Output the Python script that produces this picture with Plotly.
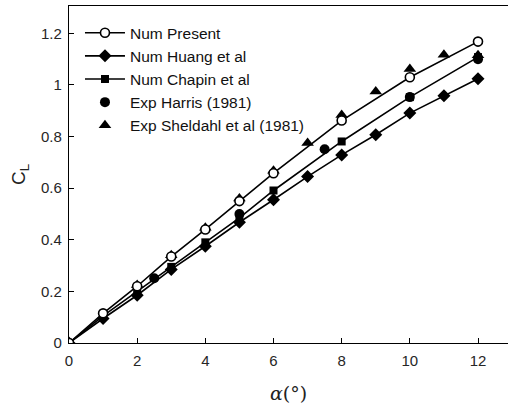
import plotly.graph_objects as go

# Data
present_x = [0, 1, 2, 3, 4, 5, 6, 8, 10, 12]
present_y = [0.0, 0.115, 0.22, 0.335, 0.44, 0.55, 0.658, 0.862, 1.03, 1.168]

huang_x = [0, 1, 2, 3, 4, 5, 6, 7, 8, 9, 10, 11, 12]
huang_y = [0.0, 0.095, 0.185, 0.285, 0.375, 0.468, 0.555, 0.645, 0.729, 0.807, 0.891, 0.958, 1.024]

chapin_x = [0, 1, 2, 3, 4, 5, 6, 8, 10, 12]
chapin_y = [0.0, 0.105, 0.2, 0.295, 0.39, 0.485, 0.591, 0.781, 0.953, 1.108]

harris_x = [0, 2.5, 5, 7.5, 10, 12]
harris_y = [0.0, 0.251, 0.5, 0.751, 0.953, 1.1]

sheldahl_x = [2, 3, 4, 5, 6, 7, 8, 9, 10, 11, 12]
sheldahl_y = [0.225, 0.34, 0.447, 0.56, 0.668, 0.775, 0.884, 0.975, 1.062, 1.117, 1.115]

x_ticks = [0, 2, 4, 6, 8, 10, 12]
y_ticks = [0, 0.2, 0.4, 0.6, 0.8, 1.0, 1.2]
y_tick_text = ["0", "0.2", "0.4", "0.6", "0.8", "1", "1.2"]

fig = go.Figure()
line = dict(color="black", width=1.6)

fig.add_trace(go.Scatter(x=sheldahl_x, y=sheldahl_y, mode="markers", name="Exp Sheldahl et al (1981)",
                         marker=dict(symbol="triangle-up", size=11, color="black"), legendrank=5))
fig.add_trace(go.Scatter(x=harris_x, y=harris_y, mode="markers", name="Exp Harris (1981)",
                         marker=dict(symbol="circle", size=10, color="black"), legendrank=4))
fig.add_trace(go.Scatter(x=chapin_x, y=chapin_y, mode="lines+markers", name="Num Chapin et al",
                         line=line, marker=dict(symbol="square", size=8, color="black"), legendrank=3))
fig.add_trace(go.Scatter(x=huang_x, y=huang_y, mode="lines+markers", name="Num Huang et al",
                         line=line, marker=dict(symbol="diamond", size=10, color="black"), legendrank=2))
fig.add_trace(go.Scatter(x=present_x, y=present_y, mode="lines+markers", name="Num Present",
                         line=line, marker=dict(symbol="circle", size=9, color="white",
                                                line=dict(color="black", width=1.6)), legendrank=1))

axis_font = dict(family="Liberation Sans, Arial, sans-serif", size=15, color="#262626")

fig.update_layout(
    width=508, height=407,
    margin=dict(l=69, r=0, t=6, b=64, autoexpand=False),
    paper_bgcolor="white", plot_bgcolor="white",
    font=axis_font,
    showlegend=True,
    legend=dict(x=0.025, y=0.97, xanchor="left", yanchor="top", bgcolor="rgba(0,0,0,0)",
                font=dict(family="Liberation Sans, Arial, sans-serif", size=15.5, color="#111"),
                tracegroupgap=0, itemwidth=40),
    xaxis=dict(range=[0, 12.88], tickvals=x_ticks, ticks="inside", ticklen=5, tickcolor="black",
               showline=True, linecolor="black", linewidth=1.3, mirror=True, showgrid=False,
               zeroline=False, tickfont=axis_font, automargin=False, ticklabelstandoff=4,
               title=dict(text="<i>α</i>(°)", font=dict(family="DejaVu Serif, serif", size=19, color="#222"),
                          standoff=18)),
    yaxis=dict(range=[0, 1.306], tickvals=y_ticks, ticktext=y_tick_text, ticks="inside", ticklen=5,
               tickcolor="black", showline=True, linecolor="black", linewidth=1.3, showgrid=False,
               zeroline=False, tickfont=axis_font, automargin=False, ticklabelstandoff=3,
               title=dict(text="C<sub>L</sub>", font=dict(family="Liberation Sans, Arial, sans-serif", size=19, color="#222"),
                          standoff=10)),
)

fig.write_html("out.html", config={"displayModeBar": False},
               post_script="document.body.style.margin='0';document.body.style.padding='0';")
